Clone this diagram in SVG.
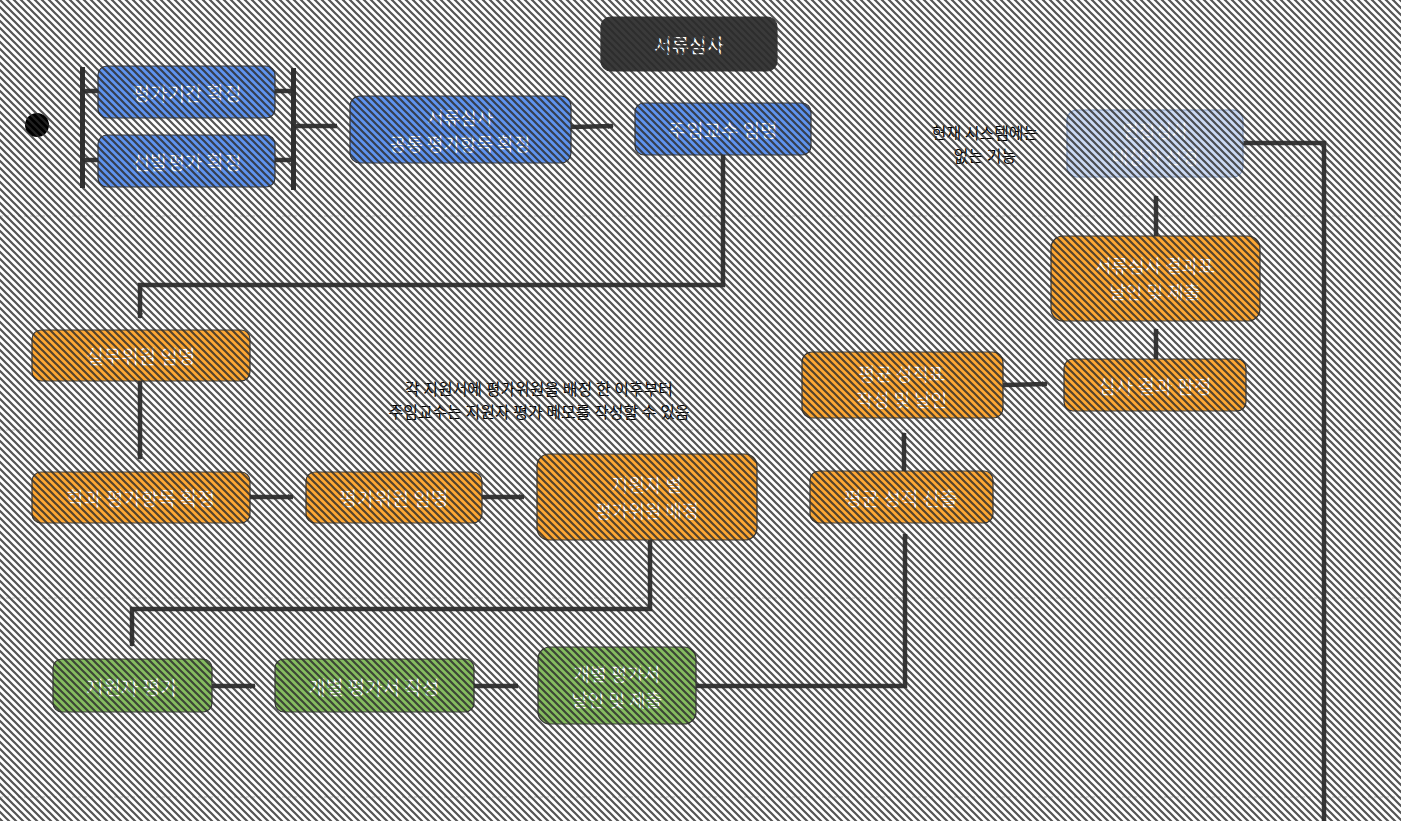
<svg xmlns="http://www.w3.org/2000/svg" width="1401" height="821" viewBox="0 0 1401 821">
<defs>
<pattern id="hatch" x="0" y="0" width="7" height="7" patternUnits="userSpaceOnUse">
<path d="M0,0 L1.6,0 L7,5.4 L7,7 L5.4,7 L0,1.6 Z M5.4,0 L7,0 L7,1.6 Z M0,5.4 L1.6,7 L0,7 Z" fill="#2a2a2a"/>
</pattern>
<marker id="arr" viewBox="0 0 6 6" refX="5" refY="3" markerWidth="1.3" markerHeight="1.3" orient="auto" markerUnits="strokeWidth">
<path d="M0,0 L6,3 L0,6 z" fill="#3a3a3a"/>
</marker>
</defs>
<style>
.lane{stroke:#c4c4c4;stroke-width:1.2;stroke-dasharray:3 3;fill:none}
.node rect{stroke:#3a3a3a;stroke-width:1.2}
.blue rect{fill:#5f94f0}
.orange rect{fill:#ffa833}
.green rect{fill:#86bd60}
.pale rect{fill:#cbdaf4;stroke:#8aa0c4}
.dark rect{fill:#3a3a3a}
.node text{fill:#ffffff;font-family:"Noto Sans CJK KR","Noto Sans",sans-serif;font-size:18px;text-anchor:middle;dominant-baseline:central}
.node text.one{font-size:19px}
.note{fill:#000;font-family:"Noto Sans CJK KR","Noto Sans",sans-serif;font-size:16px;text-anchor:middle;dominant-baseline:central}
.edge{stroke:#3a3a3a;stroke-width:4.5;fill:none}
.arrow{marker-end:url(#arr)}
.bar{fill:#333}
</style>
<rect width="1401" height="821" fill="#ffffff"/>
<g id="lanes">
<line class="lane" x1="0" y1="216" x2="1401" y2="216"/>
<line class="lane" x1="0" y1="430" x2="1401" y2="430"/>
<line class="lane" x1="0" y1="598" x2="1401" y2="598"/>
<line class="lane" x1="0" y1="797" x2="1401" y2="797"/>
</g>
<g id="connectors">
<line class="edge" x1="83" y1="91" x2="98" y2="91"/>
<line class="edge" x1="83" y1="160" x2="98" y2="160"/>
<line class="edge" x1="275" y1="91" x2="294" y2="91"/>
<line class="edge" x1="275" y1="160" x2="294" y2="160"/>
<line class="edge arrow" x1="294" y1="126" x2="337" y2="126"/>
<line class="edge arrow" x1="571" y1="127" x2="613" y2="126"/>
<polyline class="edge arrow" points="723,155 723,285 140,285 140,318"/>
<line class="edge arrow" x1="140" y1="381" x2="140" y2="459"/>
<line class="edge arrow" x1="250" y1="497" x2="293" y2="497"/>
<line class="edge arrow" x1="482" y1="497" x2="524" y2="497"/>
<polyline class="edge arrow" points="650,540 650,609 132,609 132,646"/>
<line class="edge arrow" x1="212" y1="686" x2="255" y2="686"/>
<line class="edge arrow" x1="474" y1="686" x2="518" y2="686"/>
<polyline class="edge arrow" points="696,686 905,686 905,534"/>
<line class="edge arrow" x1="904" y1="471" x2="904" y2="433"/>
<line class="edge arrow" x1="1003" y1="385" x2="1047" y2="384"/>
<line class="edge arrow" x1="1156" y1="359" x2="1156" y2="329"/>
<line class="edge arrow" x1="1156" y1="236" x2="1156" y2="196"/>
<polyline class="edge" points="1243,143 1324,143 1324,821"/>
</g>
<g id="start"><circle cx="37" cy="125" r="12" fill="#000"/></g>
<g id="fork"><rect class="bar" x="80" y="67" width="5" height="121"/></g>
<g id="join"><rect class="bar" x="291" y="68" width="5" height="122"/></g>
<g id="n-title" class="node dark"><rect x="601" y="17" width="176" height="54" rx="10"/><text class="one" x="689" y="44">서류심사</text></g>
<g id="n-period" class="node blue"><rect x="98" y="66" width="177" height="52" rx="9"/><text class="one" x="187" y="92">평가기간 확정</text></g>
<g id="n-select" class="node blue"><rect x="98" y="135" width="177" height="52" rx="9"/><text class="one" x="187" y="161">선발평가 확정</text></g>
<g id="n-common" class="node blue"><rect x="350" y="96" width="221" height="67" rx="10"/><text x="460" y="117">서류심사</text><text x="460" y="143">공통 평가항목 확정</text></g>
<g id="n-chief" class="node blue"><rect x="635" y="103" width="176" height="52" rx="9"/><text class="one" x="723" y="129">주임교수 임명</text></g>
<g id="n-staff" class="node orange"><rect x="32" y="330" width="218" height="51" rx="9"/><text class="one" x="141" y="355">실무위원 임명</text></g>
<g id="n-dept" class="node orange"><rect x="32" y="472" width="218" height="51" rx="9"/><text class="one" x="141" y="497">학과 평가항목 확정</text></g>
<g id="n-eval" class="node orange"><rect x="306" y="472" width="176" height="51" rx="9"/><text class="one" x="394" y="497">평가위원 임명</text></g>
<g id="n-assign" class="node orange"><rect x="537" y="454" width="220" height="86" rx="12"/><text x="647" y="484">지원자 별</text><text x="647" y="510">평가위원 배정</text></g>
<g id="n-avg" class="node orange"><rect x="810" y="471" width="183" height="52" rx="9"/><text class="one" x="901" y="497">평균 성적 산출</text></g>
<g id="n-avgsheet" class="node orange"><rect x="802" y="352" width="201" height="66" rx="10"/><text x="902" y="373">평균 성적표</text><text x="902" y="399">작성 및 날인</text></g>
<g id="n-result" class="node orange"><rect x="1051" y="236" width="209" height="85" rx="12"/><text x="1155" y="265">서류심사 결과표</text><text x="1155" y="291">날인 및 제출</text></g>
<g id="n-judge" class="node orange"><rect x="1064" y="359" width="182" height="52" rx="9"/><text class="one" x="1155" y="385">심사 결과 판정</text></g>
<g id="n-next" class="node pale"><rect x="1067" y="110" width="176" height="67" rx="10"/><text x="1155" y="130">면접심사</text><text x="1155" y="156">대상자 선정</text></g>
<g id="n-applicant" class="node green"><rect x="53" y="659" width="159" height="53" rx="9"/><text class="one" x="132" y="686">지원자 평가</text></g>
<g id="n-write" class="node green"><rect x="275" y="659" width="199" height="53" rx="9"/><text class="one" x="374" y="686">개별 평가서 작성</text></g>
<g id="n-submit" class="node green"><rect x="538" y="647" width="158" height="77" rx="12"/><text x="617" y="673">개별 평가서</text><text x="617" y="699">날인 및 제출</text></g>
<g id="notes">
<text class="note" x="985" y="132">현재 시스템에는</text>
<text class="note" x="985" y="155">없는 기능</text>
<text class="note" x="539" y="388">각 지원서에 평가위원을 배정 한 이후부터</text>
<text class="note" x="539" y="411">주임교수는 지원자 평가 메모를 작성할 수 있음</text>
</g>
<rect id="hatch-overlay" width="1401" height="821" fill="url(#hatch)" opacity="0.8" pointer-events="none"/>
</svg>
